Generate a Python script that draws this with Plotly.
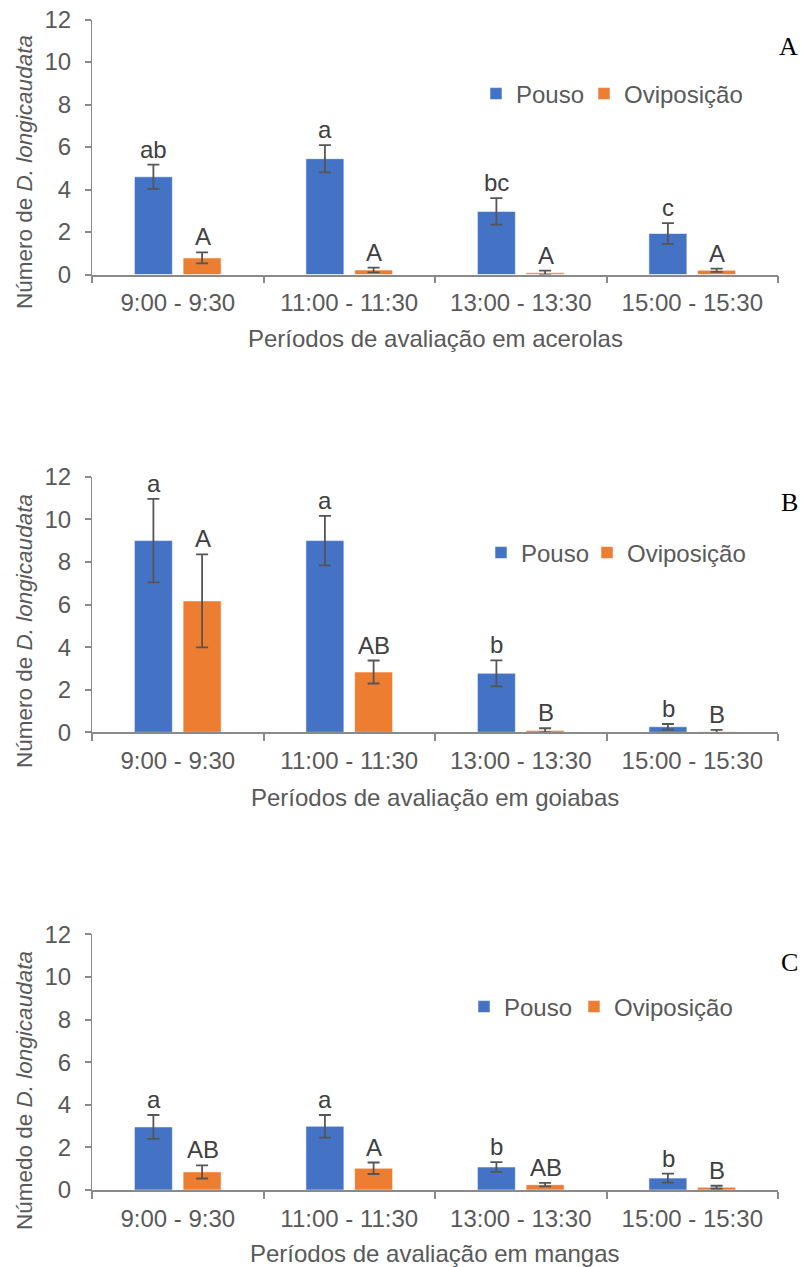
import plotly.graph_objects as go

W, H = 802, 1267

periods = ["9:00 - 9:30", "11:00 - 11:30", "13:00 - 13:30", "15:00 - 15:30"]
series_names = ["Pouso", "Oviposição"]

# Panel A - acerolas
a_pouso = [4.6, 5.45, 2.97, 1.93]
a_pouso_err = [0.57, 0.64, 0.62, 0.49]
a_ovi = [0.78, 0.21, 0.08, 0.2]
a_ovi_err = [0.26, 0.11, 0.1, 0.08]
a_pouso_lbl = ["ab", "a", "bc", "c"]
a_ovi_lbl = ["A", "A", "A", "A"]

# Panel B - goiabas
b_pouso = [9.0, 9.0, 2.77, 0.26]
b_pouso_err = [1.96, 1.16, 0.61, 0.13]
b_ovi = [6.17, 2.83, 0.09, 0.03]
b_ovi_err = [2.18, 0.54, 0.1, 0.08]
b_pouso_lbl = ["a", "a", "b", "b"]
b_ovi_lbl = ["A", "AB", "B", "B"]

# Panel C - mangas
c_pouso = [2.96, 2.99, 1.08, 0.56]
c_pouso_err = [0.56, 0.53, 0.23, 0.21]
c_ovi = [0.85, 1.02, 0.25, 0.13]
c_ovi_err = [0.31, 0.27, 0.08, 0.07]
c_pouso_lbl = ["a", "a", "b", "b"]
c_ovi_lbl = ["AB", "A", "AB", "B"]

y_ticks = [0, 2, 4, 6, 8, 10, 12]

x_titles = ["Períodos de avaliação em acerolas",
            "Períodos de avaliação em goiabas",
            "Períodos de avaliação em mangas"]
y_titles = ["Número de <i>D. longicaudata</i>",
            "Número de <i>D. longicaudata</i>",
            "Númedo de <i>D. longicaudata</i>"]
panel_letters = ["A", "B", "C"]

BLUE = "#4472C4"
ORANGE = "#ED7D31"
GRAY = "#595959"
AXIS = "#8a8a8a"
FONT = "Liberation Sans, Arial, sans-serif"
FS = 24


def px_x(x):
    return x / W


def px_y(y):
    return 1 - y / H


# plot-area pixel geometry: (top, bottom)
panels_px = [(19.5, 274.5), (476.7, 732.3), (934.3, 1190.0)]
x_left, x_right = 92, 778
ytitle_center = [172, 631, 1091]
xtitle_y = [339, 797, 1253]
letter_y = [47, 503, 962]
# (pouso legend x, oviposicao legend x, y)
legend_px = [(476, 584, 94), (481, 587, 553), (464, 574, 1007)]

data = [
    (a_pouso, a_pouso_err, a_ovi, a_ovi_err, a_pouso_lbl, a_ovi_lbl),
    (b_pouso, b_pouso_err, b_ovi, b_ovi_err, b_pouso_lbl, b_ovi_lbl),
    (c_pouso, c_pouso_err, c_ovi, c_ovi_err, c_pouso_lbl, c_ovi_lbl),
]

fig = go.Figure()
annotations = []
layout = {}


def leg_name(k):
    return "legend" if k == 0 else "legend" + str(k + 1)


for i, (p, pe, o, oe, pl, ol) in enumerate(data):
    n = "" if i == 0 else str(i + 1)
    xa, ya = "x" + n, "y" + n
    lx1, lx2, ly = legend_px[i]
    for j, (vals, errs, name, color) in enumerate([(p, pe, series_names[0], BLUE),
                                                   (o, oe, series_names[1], ORANGE)]):
        leg = leg_name(2 * i + j)
        fig.add_trace(go.Bar(
            x=periods, y=vals, name=name, xaxis=xa, yaxis=ya,
            marker=dict(color=color, line=dict(color="rgba(255,255,255,0.55)", width=1)),
            error_y=dict(type="data", array=errs, visible=True,
                         color="#555555", thickness=1.8, width=6),
            legend=leg, showlegend=True,
        ))
        layout[leg] = dict(
            x=px_x(lx1 if j == 0 else lx2), y=px_y(ly), xanchor="left", yanchor="middle",
            orientation="h", bgcolor="rgba(0,0,0,0)",
            font=dict(size=FS, color=GRAY, family=FONT),
            itemclick=False, itemdoubleclick=False)
    for vals, errs, lbls, shift in [(p, pe, pl, -24), (o, oe, ol, 25)]:
        for cat, v, e, t in zip(periods, vals, errs, lbls):
            annotations.append(dict(
                x=cat, y=v + e, xref=xa, yref=ya, text=t, showarrow=False,
                xshift=shift, yshift=0, yanchor="bottom", xanchor="center",
                font=dict(size=FS, color="#404040", family=FONT)))
    top, bot = panels_px[i]
    xdom = [px_x(x_left), px_x(x_right)]
    ydom = [px_y(bot), px_y(top)]
    layout["xaxis" + n] = dict(
        domain=xdom, anchor=ya, automargin=False,
        type="category", range=[-0.5, 3.5], tickson="boundaries",
        ticks="outside", ticklen=7, tickcolor=AXIS, tickwidth=1.5,
        showline=True, linecolor=AXIS, linewidth=1.5, showgrid=False,
        tickfont=dict(size=FS, color=GRAY, family=FONT), ticklabelstandoff=6,
        zeroline=False, fixedrange=True)
    layout["yaxis" + n] = dict(
        domain=ydom, anchor=xa, automargin=False,
        range=[0, 12], tickvals=y_ticks,
        ticks="outside", ticklen=6, tickcolor=AXIS, tickwidth=1.5,
        showline=True, linecolor=AXIS, linewidth=1.2, showgrid=False,
        zeroline=False, tickfont=dict(size=FS, color=GRAY, family=FONT),
        ticklabelstandoff=9, fixedrange=True)
    # overlay axes providing the inner half of the crossing tick marks
    ox, oy = "xaxis" + str(i + 4), "yaxis" + str(i + 4)
    layout[ox] = dict(
        domain=xdom, anchor="y" + str(i + 4), overlaying=xa, type="linear",
        range=[-0.5, 3.5], tickvals=[-0.5, 0.5, 1.5, 2.5, 3.5],
        ticks="inside", ticklen=6, tickcolor=AXIS, tickwidth=1.5,
        showticklabels=False, showline=False, showgrid=False, zeroline=False,
        automargin=False, fixedrange=True)
    layout[oy] = dict(
        domain=ydom, anchor="x" + str(i + 4), overlaying=ya, type="linear",
        range=[0, 12], tickvals=y_ticks,
        ticks="inside", ticklen=7, tickcolor=AXIS, tickwidth=1.5,
        showticklabels=False, showline=False, showgrid=False, zeroline=False,
        automargin=False, fixedrange=True)
    annotations.append(dict(
        x=px_x(24), y=px_y(ytitle_center[i]), xref="paper", yref="paper",
        text=y_titles[i], textangle=-90, showarrow=False,
        xanchor="center", yanchor="middle",
        font=dict(size=22.5, color=GRAY, family=FONT)))
    annotations.append(dict(
        x=px_x((x_left + x_right) / 2), y=px_y(xtitle_y[i]), xref="paper", yref="paper",
        text=x_titles[i], showarrow=False, xanchor="center", yanchor="middle",
        font=dict(size=FS, color=GRAY, family=FONT)))
    annotations.append(dict(
        x=px_x(800), y=px_y(letter_y[i]), xref="paper", yref="paper",
        text=panel_letters[i], showarrow=False, xanchor="right", yanchor="middle",
        font=dict(size=26, color="#000000", family="Liberation Serif, Times New Roman, serif")))

fig.update_layout(
    width=W, height=H, margin=dict(l=0, r=0, t=0, b=0, pad=0, autoexpand=False),
    paper_bgcolor="white", plot_bgcolor="white",
    barmode="group", bargap=0.432, bargroupgap=0.22,
    annotations=annotations, showlegend=True,
    **layout)

fig.write_html("out.html")
